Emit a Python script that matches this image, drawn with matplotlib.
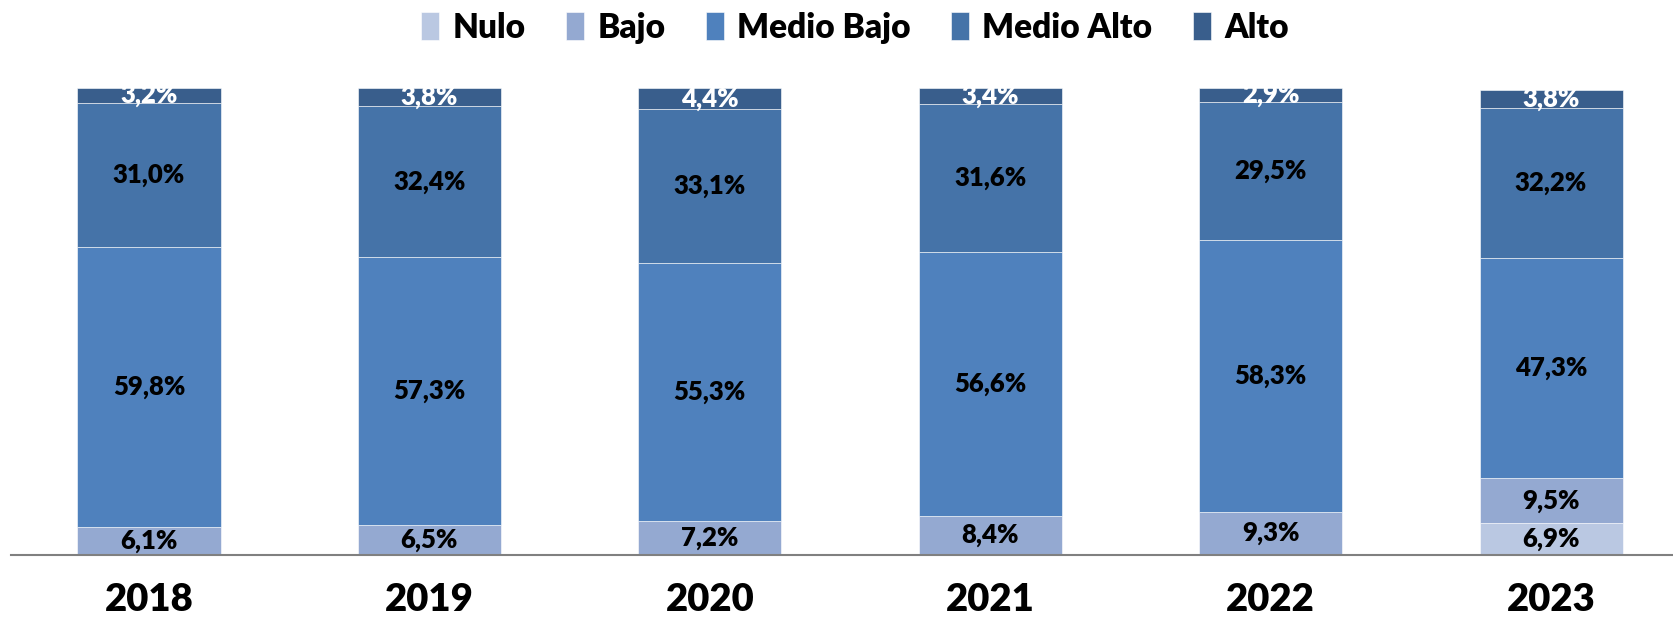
import matplotlib.pyplot as plt
import numpy as np

plt.rcParams['font.family'] = ['Lato', 'DejaVu Sans']

# Datos
years = ['2018', '2019', '2020', '2021', '2022', '2023']
categories = ['Nulo', 'Bajo', 'Medio Bajo', 'Medio Alto', 'Alto']
nulo = [0, 0, 0, 0, 0, 6.9]
bajo = [6.1, 6.5, 7.2, 8.4, 9.3, 9.5]
medio_bajo = [59.8, 57.3, 55.3, 56.6, 58.3, 47.3]
medio_alto = [31.0, 32.4, 33.1, 31.6, 29.5, 32.2]
alto = [3.2, 3.8, 4.4, 3.4, 2.9, 3.8]

colors = ['#BAC8E2', '#94A9D1', '#4F81BD', '#4573A8', '#395E8C']
label_colors = ['black', 'black', 'black', 'black', 'white']


def main() -> None:
    fig = plt.figure(figsize=(16.73, 6.18), dpi=100)
    ax = fig.add_axes([0.0066, 0.102, 0.9934, 0.755])

    x = np.arange(len(years))
    series = [nulo, bajo, medio_bajo, medio_alto, alto]
    bottom = np.zeros(len(years))
    for name, vals, col, lcol in zip(categories, series, colors, label_colors):
        vals = np.array(vals)
        ax.bar(x, vals, 0.51, bottom=bottom, color=col, label=name,
               edgecolor='white', linewidth=0.4)
        for xi, v, b in zip(x, vals, bottom):
            if v > 0:
                ax.text(xi, b + v / 2, f'{v:.1f}%'.replace('.', ','),
                        ha='center', va='center', fontsize=18.5,
                        fontweight='heavy', color=lcol)
        bottom += vals

    ax.set_xlim(-0.492, 5.435)
    ax.set_ylim(0, 100)
    ax.set_xticks(x)
    ax.set_xticklabels(years, fontsize=27.5, fontweight='heavy')
    ax.tick_params(axis='x', length=0, pad=20)
    ax.set_yticks([])
    for s in ['top', 'left', 'right']:
        ax.spines[s].set_visible(False)
    ax.spines['bottom'].set_color('#808080')
    ax.spines['bottom'].set_linewidth(1.5)

    fig.legend(loc='center', bbox_to_anchor=(0.511, 0.955), ncol=5,
               frameon=False, prop={'size': 24, 'weight': 'heavy'},
               handlelength=0.55, handleheight=0.9, handletextpad=0.4,
               columnspacing=1.2)

    fig.savefig('out.png', dpi=100)


if __name__ == '__main__':
    main()
